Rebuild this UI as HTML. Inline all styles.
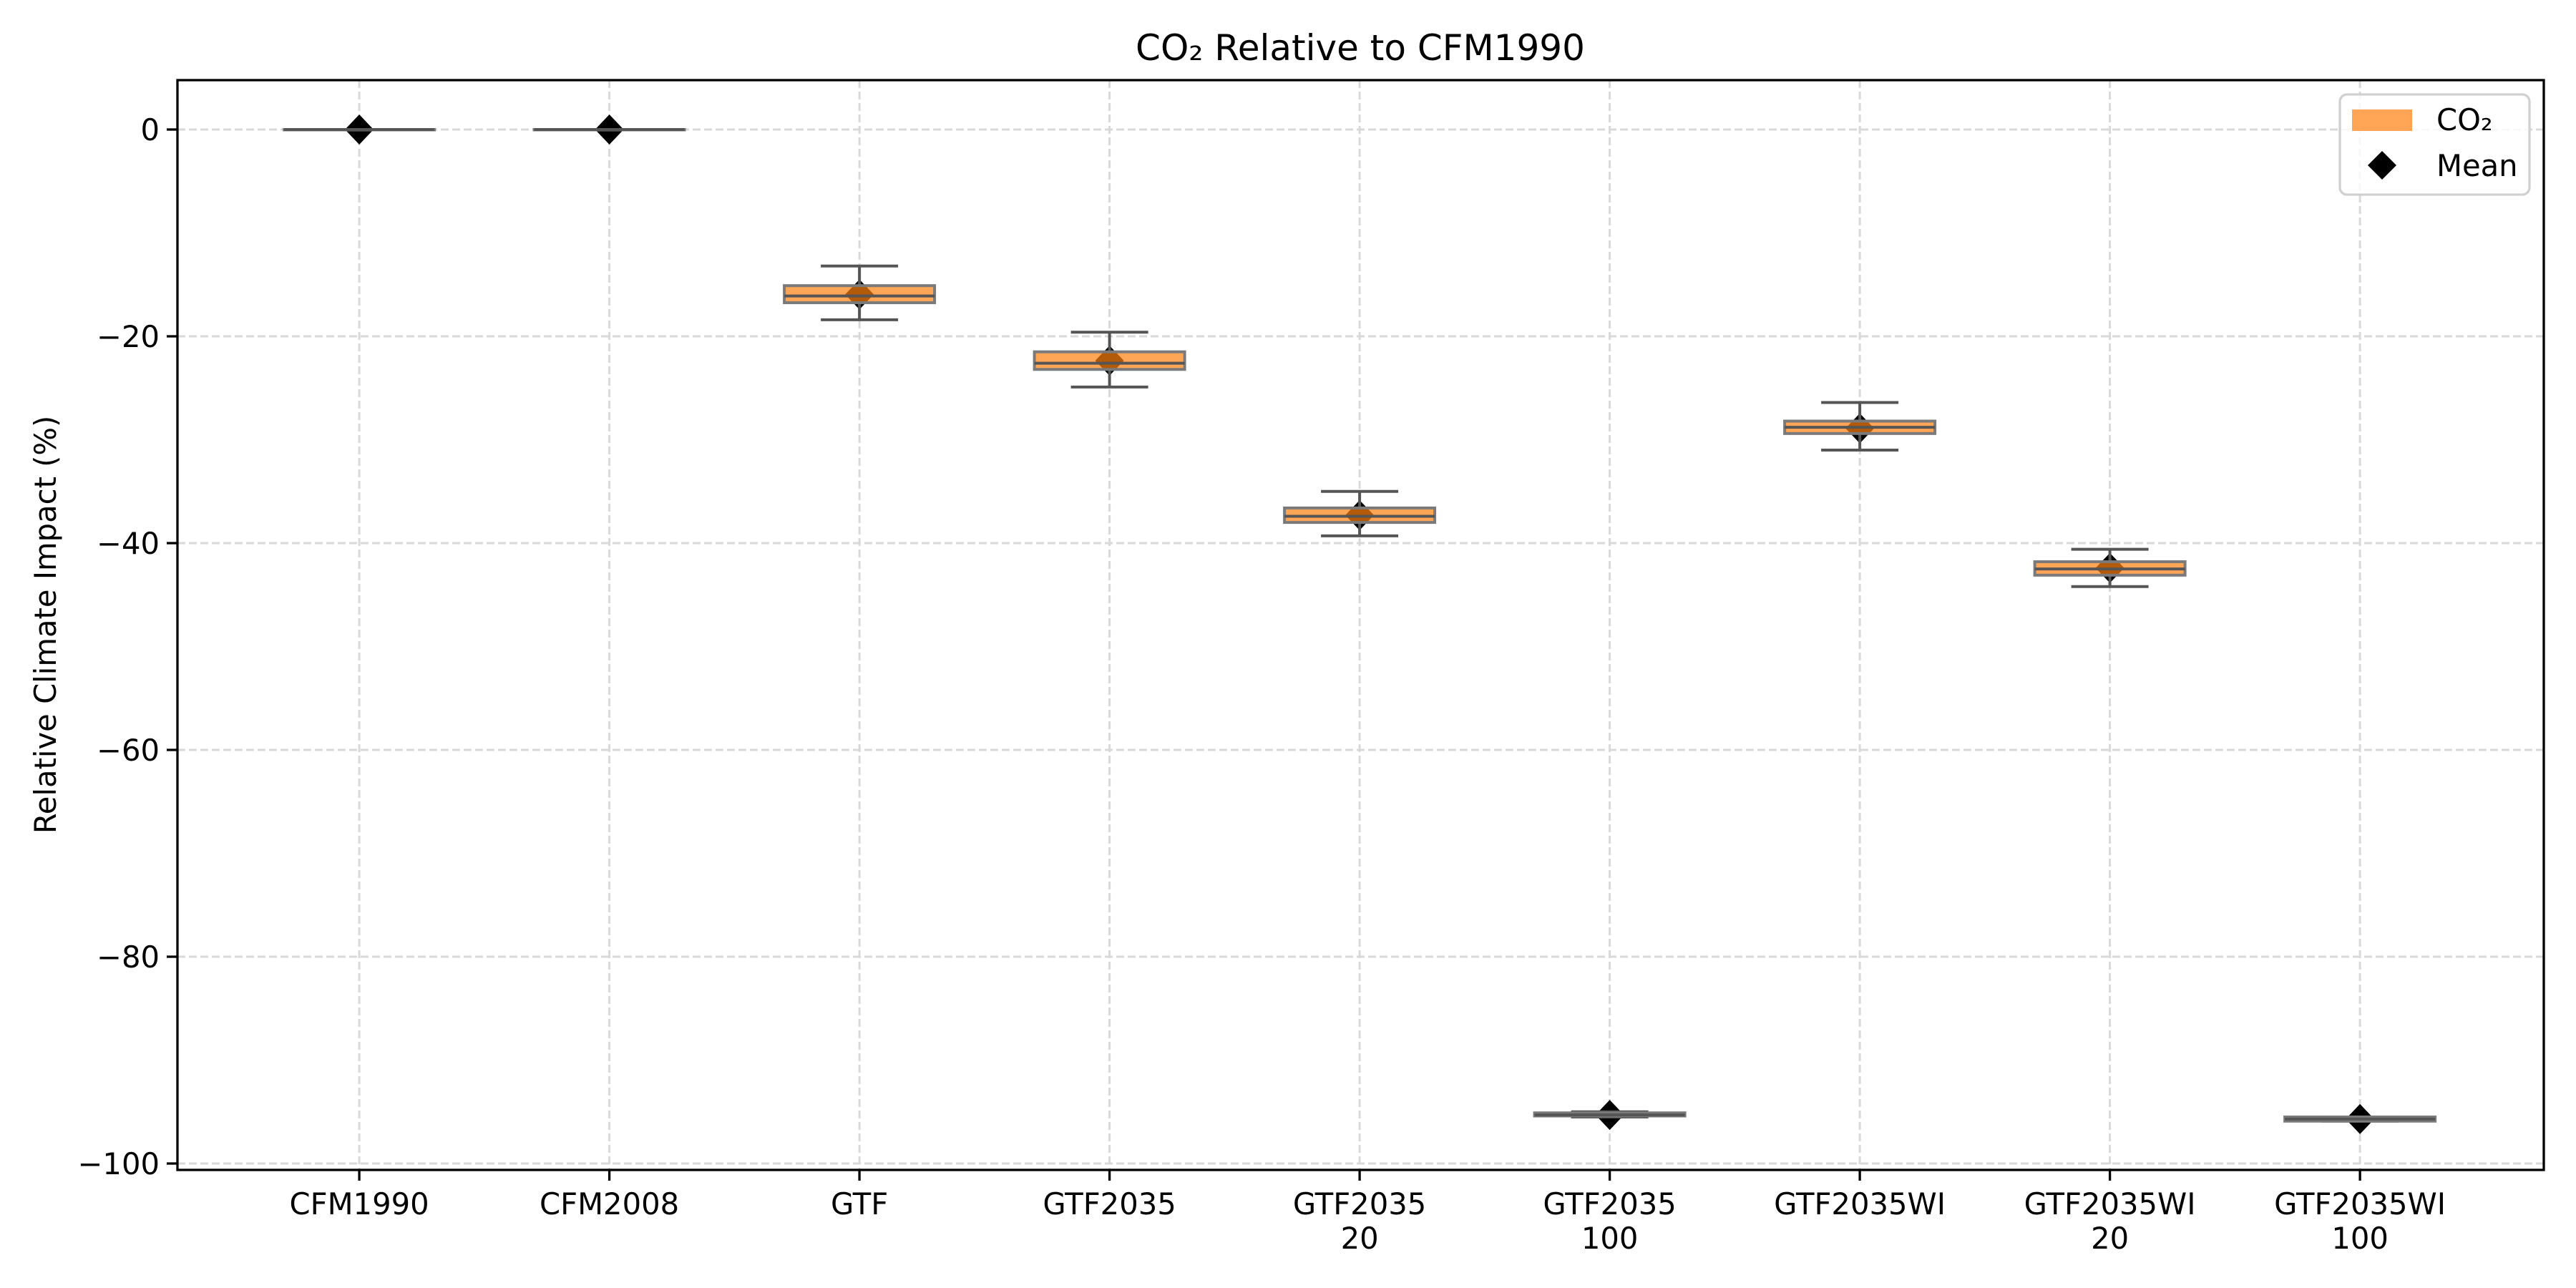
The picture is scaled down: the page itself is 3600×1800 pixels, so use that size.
<!DOCTYPE html>
<html><head><meta charset="utf-8"><style>
body{margin:0;background:#fff}
svg{display:block;font-family:"DejaVu Sans","Liberation Sans",sans-serif}
</style></head><body>
<svg id="chart" width="3600" height="1800" viewBox="0 0 3600 1800" xmlns="http://www.w3.org/2000/svg">
<rect width="3600" height="1800" fill="#fff"/>
<g id="grid"></g>
<g id="boxes"></g>
<rect x="248" y="112" width="3307" height="1523" fill="none" stroke="#000" stroke-width="3.3"/>
<g id="axes"></g>
<text x="1901" y="84" font-size="50" text-anchor="middle">CO₂ Relative to CFM1990</text>
<text transform="translate(78,873) rotate(-90)" font-size="41.7" text-anchor="middle">Relative Climate Impact (%)</text>
<g>
<rect x="3270" y="132" width="265" height="140" rx="10" fill="#fff" fill-opacity="0.8" stroke="#d0d0d0" stroke-width="3.3"/>
<rect x="3287" y="153" width="84" height="30" fill="#ffa555"/>
<text x="3405" y="182" font-size="41.7">CO₂</text>
<path d="M3329 211 L3349 231 L3329 251 L3309 231 Z" fill="#000"/>
<text x="3405" y="246" font-size="41.7">Mean</text>
</g>
</svg>
<script>
const categories = ["CFM1990","CFM2008","GTF","GTF2035","GTF2035\n20","GTF2035\n100","GTF2035WI","GTF2035WI\n20","GTF2035WI\n100"];
const whiskerHigh = [0,0,-13.2,-19.6,-35.0,-95.0,-26.4,-40.6,-95.5];
const q3 = [0,0,-15.1,-21.5,-36.6,-95.1,-28.2,-41.8,-95.5];
const medians = [0,0,-16.1,-22.6,-37.4,-95.3,-28.8,-42.5,-95.7];
const q1 = [0,0,-16.75,-23.2,-38.0,-95.4,-29.4,-43.1,-95.9];
const whiskerLow = [0,0,-18.4,-24.9,-39.3,-95.5,-31.0,-44.2,-95.9];
const means = [0,0,-15.95,-22.35,-37.3,-95.3,-28.9,-42.4,-95.7];
const yTicks = [0,-20,-40,-60,-80,-100];
const yTickLabels = ["0","−20","−40","−60","−80","−100"];

const NS="http://www.w3.org/2000/svg";
const X0=248,X1=3555,Y0=112,Y1=1635;
const xmin=-0.727,xmax=8.735,ymax=4.775,ymin=-100.62;
const xs=i=>X0+(i-xmin)/(xmax-xmin)*(X1-X0);
const ys=v=>Y0+(ymax-v)/(ymax-ymin)*(Y1-Y0);
function mk(tag,attrs,parent){const e=document.createElementNS(NS,tag);for(const k in attrs)e.setAttribute(k,attrs[k]);parent.appendChild(e);return e;}
const grid=document.getElementById('grid'),boxes=document.getElementById('boxes'),axes=document.getElementById('axes');
const gs={stroke:"#d9d9d9","stroke-width":"3","stroke-dasharray":"11 5"};
yTicks.forEach((v,i)=>{
  const y=ys(v);
  const g=mk('line',Object.assign({x1:X0,x2:X1,y1:y,y2:y},gs),grid);
  
  
  const t=mk('line',{x1:X0-15,x2:X0,y1:y,y2:y,stroke:"#000","stroke-width":"3.3"},axes);
  
  
  const l=mk('text',{x:X0-25,y:y+15,"font-size":"41.7","text-anchor":"end"},axes);
  l.textContent=yTickLabels[i];
  
  
});
categories.forEach((c,i)=>{
  const x=xs(i);
  const g=mk('line',Object.assign({x1:x,x2:x,y1:Y0,y2:Y1},gs),grid);
  
  
  const t=mk('line',{x1:x,x2:x,y1:Y1,y2:Y1+15,stroke:"#000","stroke-width":"3.3"},axes);
  
  
  c.split("\n").forEach((ln,j)=>{
    const l=mk('text',{x:x,y:1697+j*48,"font-size":"41.7","text-anchor":"middle"},axes);
    l.textContent=ln;
    
    
  });
  const g2=mk('g',{},boxes);
  
  
  const hw=105,cw=54,st={stroke:"#555","stroke-width":"4"};
  const m=ys(means[i]);
  const d=mk('path',{d:`M${x} ${m-21}L${x+20} ${m}L${x} ${m+21}L${x-20} ${m}Z`,fill:"#000"},g2);
  
  
  mk('line',Object.assign({x1:x,x2:x,y1:ys(whiskerHigh[i]),y2:ys(q3[i])},st),g2);
  mk('line',Object.assign({x1:x,x2:x,y1:ys(q1[i]),y2:ys(whiskerLow[i])},st),g2);
  mk('line',Object.assign({x1:x-cw,x2:x+cw,y1:ys(whiskerHigh[i]),y2:ys(whiskerHigh[i])},st),g2);
  mk('line',Object.assign({x1:x-cw,x2:x+cw,y1:ys(whiskerLow[i]),y2:ys(whiskerLow[i])},st),g2);
  mk('rect',{x:x-hw,y:ys(q3[i]),width:2*hw,height:Math.max(0.5,ys(q1[i])-ys(q3[i])),fill:"#ff7f0e","fill-opacity":"0.7",stroke:"#7a7a7a","stroke-width":"4"},g2);
  mk('line',Object.assign({x1:x-hw,x2:x+hw,y1:ys(medians[i]),y2:ys(medians[i])},st),g2);
});
</script>
</body></html>
